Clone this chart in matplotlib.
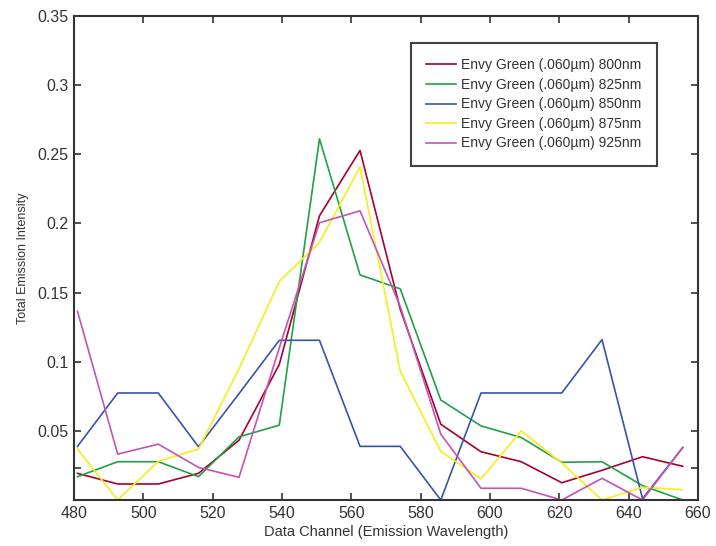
import matplotlib
matplotlib.use("Agg")
import matplotlib.pyplot as plt

# channel centres (nm)
channels = [481.0, 492.6, 504.3, 515.9, 527.6, 539.2, 550.8, 562.5,
            574.1, 585.8, 597.4, 609.0, 620.7, 632.3, 644.0, 655.6]

em_800 = [0.0193, 0.0116, 0.0116, 0.0193, 0.0433, 0.098, 0.2055, 0.2528,
          0.138, 0.0548, 0.0349, 0.0277, 0.0125, 0.0215, 0.0313, 0.0244]
em_825 = [0.0169, 0.0277, 0.0277, 0.0169, 0.0457, 0.0541, 0.2612, 0.1628,
          0.1527, 0.0723, 0.0536, 0.0452, 0.0273, 0.0277, 0.0104, 0.0]
em_850 = [0.0388, 0.0774, 0.0774, 0.0385, 0.077, 0.1155, 0.1155, 0.0388,
          0.0388, 0.0, 0.0774, 0.0774, 0.0774, 0.116, 0.001, 0.038]
em_875 = [0.0368, 0.0, 0.028, 0.0368, 0.095, 0.158, 0.1864, 0.2408,
          0.0932, 0.0352, 0.0152, 0.05, 0.0267, 0.0, 0.0092, 0.0075]
em_925 = [0.1364, 0.0332, 0.0404, 0.0236, 0.0164, 0.11, 0.2005, 0.2091,
          0.14, 0.0476, 0.0085, 0.0085, 0.0, 0.0157, 0.0, 0.038]

labels = ["Envy Green (.060µm) 800nm", "Envy Green (.060µm) 825nm",
          "Envy Green (.060µm) 850nm", "Envy Green (.060µm) 875nm",
          "Envy Green (.060µm) 925nm"]
colors = ["#a8002e", "#1fa247", "#3655a8", "#f7ec1c", "#c254b4"]

plt.rcParams['font.family'] = ['Liberation Sans', 'DejaVu Sans']

fig = plt.figure(figsize=(7.16, 5.46), dpi=100)
ax = fig.add_axes([0.1034, 0.0842, 0.8715, 0.8865])

for ys, lab, c in zip([em_800, em_825, em_850, em_875, em_925], labels, colors):
    ax.plot(channels, ys, color=c, lw=1.2, label=lab)

ax.set_xlim(480, 660)
ax.set_ylim(0, 0.35)
ax.set_xticks(range(480, 661, 20))
yt = [0.0235, 0.05, 0.1, 0.15, 0.2, 0.25, 0.3, 0.35]
ax.set_yticks(yt)
ax.set_yticklabels([""] + ["0.05", "0.1", "0.15", "0.2", "0.25", "0.3", "0.35"])
ax.tick_params(direction="in", length=5, width=1.2, top=True, right=True,
               labelsize=11.5, colors="#333333", labelcolor="#333333", pad=4)
for s in ax.spines.values():
    s.set_linewidth(1.5)
    s.set_color("#333333")

ax.set_xlabel("Data Channel (Emission Wavelength)", fontsize=10.5,
              color="#333333", labelpad=3)
ax.set_ylabel("Total Emission Intensity", fontsize=9, color="#333333",
              labelpad=6)

leg = ax.legend(loc="upper left", bbox_to_anchor=(411 / 716, 1 - 43 / 546),
                bbox_transform=fig.transFigure,
                fontsize=10, frameon=True, fancybox=False,
                edgecolor="#111111", handlelength=2.15, handletextpad=0.35,
                labelspacing=0.4, borderpad=1.1, borderaxespad=0)
leg.get_frame().set_linewidth(1.5)
for t in leg.get_texts():
    t.set_color("#333333")

fig.savefig("out.png", dpi=100)
